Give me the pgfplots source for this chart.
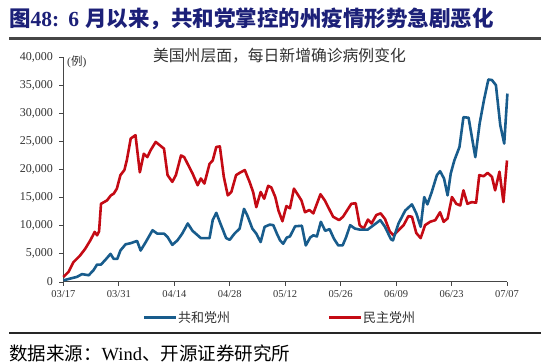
\documentclass[border=0pt]{standalone}
\usepackage{fontspec}
\usepackage{pgfplots}
\pgfplotsset{compat=1.18}
\setmainfont{Liberation Serif}
\newfontfamily\cjk{Noto Sans CJK SC}
\definecolor{tnavy}{RGB}{28,32,120}
\definecolor{rblue}{RGB}{24,92,140}
\definecolor{rred}{RGB}{196,10,20}
\definecolor{axgray}{RGB}{70,70,70}
\definecolor{txtgray}{RGB}{50,50,50}
\begin{document}
\begin{tikzpicture}
\path[use as bounding box] (0pt,0pt) rectangle (550pt,363pt);
% title
\node[anchor=west, inner sep=0pt, text=tnavy] at (9pt,344pt) {\fontsize{21.5}{24}\selectfont\cjk\bfseries 图\textbf{\fontspec{Liberation Serif}48:}\hspace{9pt}\textbf{\fontspec{Liberation Serif}6}\hspace{6pt}月以来，共和党掌控的州疫情形势急剧恶化};
\draw[line width=2.4pt, color=axgray] (9pt,324.5pt) -- (541pt,324.5pt);
% footer
\draw[line width=1.4pt, color=black!85] (9pt,30pt) -- (541pt,30pt);
\node[anchor=west, inner sep=0pt] at (9pt,10pt) {\fontsize{18.5}{21}\selectfont\cjk 数据来源：\fontspec{Liberation Serif}Wind\cjk 、开源证券研究所};
% inner title
\node[inner sep=0pt, text=txtgray] at (279.5pt,307pt) {\fontsize{15.8}{18}\selectfont\cjk 美国州层面，每日新增确诊病例变化};
\node[anchor=west, inner sep=0pt, text=txtgray] at (67pt,301pt) {\fontsize{11.5}{13}\selectfont(\cjk 例\rmfamily)};
% legend
\draw[rblue, line width=3pt] (144pt,45.5pt) -- (176pt,45.5pt);
\node[anchor=west, inner sep=0pt, text=txtgray] at (178pt,45pt) {\fontsize{13}{15}\selectfont\cjk 共和党州};
\draw[rred, line width=3pt] (329pt,45.5pt) -- (361pt,45.5pt);
\node[anchor=west, inner sep=0pt, text=txtgray] at (363pt,45pt) {\fontsize{13}{15}\selectfont\cjk 民主党州};
\begin{axis}[
  at={(63.4pt,81pt)}, anchor=south west,
  scale only axis, width=443.6pt, height=225pt,
  xmin=0, xmax=112, ymin=0, ymax=40000,
  axis x line=bottom, axis y line=left,
  axis line style={-, color=axgray, line width=1pt},
  xtick={0,14,28,42,56,70,84,98,112},
  xticklabels={03/17,03/31,04/14,04/28,05/12,05/26,06/09,06/23,07/07},
  ytick={0,5000,10000,15000,20000,25000,30000,35000,40000},
  scaled y ticks=false,
  yticklabel style={font=\fontsize{12}{14}\selectfont, text=txtgray, xshift=-3pt, /pgf/number format/fixed, /pgf/number format/1000 sep={,}},
  /pgf/number format/assume math mode=true,
  tick style={color=axgray, line width=0.8pt},
  tick align=outside, major tick length=4pt,
  xticklabel style={font=\fontsize{10.5}{12}\selectfont, text=txtgray, yshift=-1pt},
  clip=false,
]
\addplot[rred, line width=2.6pt, line join=round] coordinates {
(0,900) (1.3,1800) (2.5,3500) (4.2,4700) (5.5,5900) (6.8,7400) (7.9,8900) (8.5,8300) (9,9000) (9.5,13900)
(11,14500) (12,15400) (12.7,15700) (13.5,16600) (14.4,19000) (15.4,19900) (16,21600) (17,25500) (18.2,26100)
(19.3,19500) (20.3,22800) (21.2,22200) (22,23400) (23.3,24900) (25.4,23700) (26.3,19000) (27.5,17800)
(28.4,19000) (29.7,22500) (30.5,22200) (31.8,20400) (32.6,19300) (33.9,17200) (34.7,18400) (35.6,17500)
(36.9,21000) (37.7,21600) (38.6,24000) (39.5,24100) (40.5,18700) (41.5,15400) (42.4,16000) (43.6,19000)
(44.5,19400) (45.8,19900) (47,17800) (47.9,16000) (48.7,13300) (49.8,16000) (50.7,14800) (51.7,17100)
(52.5,16800) (53.5,15100) (54.3,12700) (55.3,10800) (56.3,13500) (57.2,13100) (58.2,16600) (59.3,15400)
(60.1,14500) (61,12400) (62.1,12800) (63.1,12200) (64.9,15600) (66,14500) (68.1,11600) (69.6,11000)
(70.6,11600) (72.7,13900) (73.8,14000) (74.8,10100) (75.8,9500) (76.9,11100) (77.8,10400) (79,11900)
(80.1,12200) (81.2,11200) (82.4,9000) (83.3,8300) (84.6,9200) (85.9,10100) (87.1,11700) (88,11600)
(89.1,8700) (90.2,7800) (91.3,10100) (92.6,10700) (93.9,11000) (95.1,12400) (96,10700) (97,11300)
(98.1,15100) (99.2,13900) (100.2,13600) (101,16300) (102,13900) (103.1,14200) (104.2,14100) (105,19000)
(106.1,18800) (107.1,19400) (108.2,18700) (109,16300) (110.1,19600) (111.1,14200) (112,21600)
};
\addplot[rblue, line width=2.6pt, line join=round] coordinates {
(0,300) (1.7,600) (3.4,900) (4.7,1400) (6.4,1200) (7.6,2100) (8.5,3100) (9.5,3100) (10.8,4100) (11.9,5000)
(12.7,4100) (13.6,4100) (14.4,5600) (15.7,6700) (17,6900) (18.6,7300) (19.5,5600) (20.8,7100) (22.5,9200)
(23.7,8600) (25.4,8600) (26.3,8000) (27.5,6600) (28.8,7400) (30,8600) (31.4,10400) (32.6,9100) (33.9,8300)
(34.7,7800) (36.9,7800) (37.7,11000) (38.6,12300) (39.8,10100) (41.1,7800) (42,7500) (43.2,8600) (44.5,9500)
(45.6,13000) (46.4,11900) (47.7,9500) (48.7,8600) (49.8,7100) (50.8,9800) (52.1,10200) (53,10100)
(53.9,8600) (54.7,7400) (55.5,6800) (56.4,7900) (57.2,8100) (58.5,9900) (60.2,10000) (61.2,6500)
(62.3,7900) (63.1,8300) (64,8100) (65,10700) (66.1,9100) (67.2,9400) (68.3,7700) (69.4,6500) (70.5,6500)
(71.4,8000) (72.4,10100) (73.6,9500) (74.9,9300) (76.8,9300) (78.3,10100) (80,11000) (81.2,9800)
(82.7,7600) (83.2,7400) (84.6,10400) (86.3,12700) (88,13800) (89.1,12200) (90.2,9800) (91.1,15100)
(91.9,13800) (93,16000) (94.3,19000) (95.1,19700) (96.1,18400) (97,15400) (97.8,19300) (98.7,21600)
(100,24000) (101,29300) (102.3,29200) (104,22200) (105.1,28200) (106.2,32400) (107.3,36000) (108.2,35900)
(109.2,35000) (110.3,27900) (111.3,24600) (112.1,33500)
};
\end{axis}
\end{tikzpicture}
\end{document}
